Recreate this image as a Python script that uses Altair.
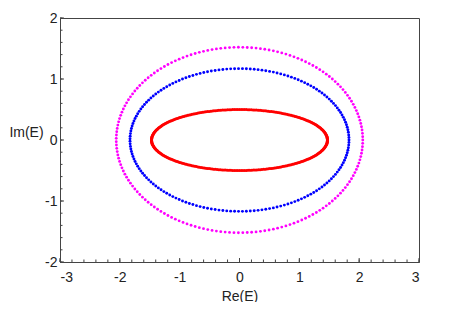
import altair as alt
import numpy as np
import pandas as pd

# ---- data ----
series_names = ["outer", "middle", "inner"]
semi_re = [2.06, 1.83, 1.47]      # half-width along Re(E)
semi_im = [1.52, 1.17, 0.50]      # half-height along Im(E)
point_counts = [175, 175, 320]

x_major = [-3, -2, -1, 0, 1, 2, 3]
y_major = [-2, -1, 0, 1, 2]

# ---- styles ----
series_colors = ["#ff00ff", "#0000ff", "#ff0000"]
dot_sizes = [8, 9, 10]

rows = []
for name, a, b, n in zip(series_names, semi_re, semi_im, point_counts):
    k = 2 * np.pi * np.arange(n) / n
    for kk in k:
        rows.append({"series": name, "re": a * np.cos(kk), "im": b * np.sin(kk)})
df = pd.DataFrame(rows)

x_minor = [round(v, 1) for v in np.arange(-3, 3.0001, 0.2)]
y_minor = [round(v, 1) for v in np.arange(-2, 2.0001, 0.2)]

W, H = 359, 244
FONT = "Liberation Sans"
LBL = "toString(datum.value)"

xs = alt.Scale(domain=[-3, 3], nice=False, zero=False)
ys = alt.Scale(domain=[-2, 2], nice=False, zero=False)
xaxis = alt.Axis(values=x_major, ticks=False, grid=False, title="Re(E)",
                 labelPadding=8, titleY=34, titleBaseline="middle", labelExpr=LBL)
yaxis = alt.Axis(values=y_major, ticks=False, grid=False, title="Im(E)",
                 labelPadding=3, titleAngle=0, titleX=-34, titleY=114,
                 titleAlign="center", titleBaseline="middle", labelExpr=LBL)

points = alt.Chart(df).mark_circle(opacity=1).encode(
    x=alt.X("re:Q", scale=xs, axis=xaxis),
    y=alt.Y("im:Q", scale=ys, axis=yaxis),
    color=alt.Color("series:N", scale=alt.Scale(domain=series_names, range=series_colors), legend=None),
    size=alt.Size("series:N", scale=alt.Scale(domain=series_names, range=dot_sizes), legend=None),
)

tick_color = "#444"
xmin_t = alt.Chart(pd.DataFrame({"re": x_minor})).mark_rule(color=tick_color, strokeWidth=1).encode(
    x=alt.X("re:Q", scale=xs, axis=xaxis), y=alt.value(H), y2=alt.value(H - 2.5))
xmaj_t = alt.Chart(pd.DataFrame({"re": x_major})).mark_rule(color=tick_color, strokeWidth=1).encode(
    x=alt.X("re:Q", scale=xs, axis=xaxis), y=alt.value(H), y2=alt.value(H - 4))
ymin_t = alt.Chart(pd.DataFrame({"im": y_minor})).mark_rule(color=tick_color, strokeWidth=1).encode(
    y=alt.Y("im:Q", scale=ys, axis=yaxis), x=alt.value(0), x2=alt.value(2.5))
ymaj_t = alt.Chart(pd.DataFrame({"im": y_major})).mark_rule(color=tick_color, strokeWidth=1).encode(
    y=alt.Y("im:Q", scale=ys, axis=yaxis), x=alt.value(0), x2=alt.value(4))

chart = alt.layer(points, xmin_t, xmaj_t, ymin_t, ymaj_t).properties(
    width=W, height=H,
    autosize=alt.AutoSizeParams(type="none"),
    padding={"left": 52, "top": 10, "right": 30, "bottom": 40},
).configure_view(
    stroke="#444", strokeWidth=1
).configure_axis(
    domainColor="#444", domainWidth=1,
    labelFont=FONT, labelFontSize=14, labelColor="#222",
    titleFont=FONT, titleFontSize=14, titleFontWeight="normal", titleColor="#222",
)

chart.save("out.html", embed_options={"renderer": "svg", "actions": False})
